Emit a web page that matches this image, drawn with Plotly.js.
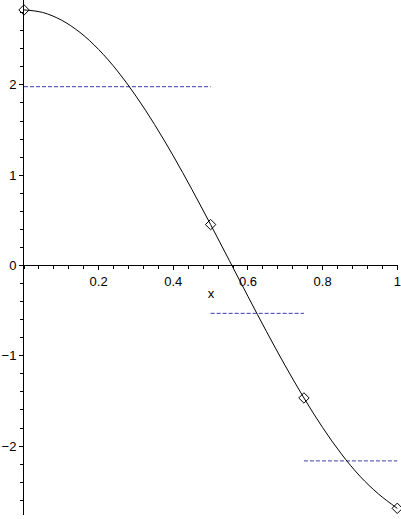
<!DOCTYPE html>
<html>
<head>
<meta charset="utf-8">
<script src="https://cdn.plot.ly/plotly-3.0.1.min.js"></script>
<style>html,body{margin:0;padding:0;background:#fff;}#chart{width:401px;height:519px;}</style>
</head>
<body>
<div id="chart"></div>
<script>
// Curve values
var curveX = [0, 0.05, 0.10, 0.15, 0.20, 0.25, 0.30, 0.35, 0.40, 0.45, 0.50, 0.55, 0.60, 0.65, 0.70, 0.75, 0.80, 0.85, 0.90, 0.95, 1.00];
var curveY = [2.83, 2.802, 2.718, 2.581, 2.392, 2.156, 1.876, 1.560, 1.213, 0.841, 0.453, 0.056, -0.342, -0.734, -1.111, -1.467, -1.794, -2.085, -2.333, -2.531, -2.689];

// Sample points (diamonds)
var pointX = [0, 0.5, 0.75, 1];
var pointY = [2.83, 0.453, -1.467, -2.689];

// Dashed step levels
var stepStart = [0, 0.5, 0.75];
var stepEnd = [0.5, 0.75, 1];
var stepLevel = [1.98, -0.53, -2.164];

// Ticks
var xTickVals = [0.2, 0.4, 0.6, 0.8, 1];
var xTickText = ['0.2', '0.4', '0.6', '0.8', '1'];
var yTickVals = [-2, -1, 0, 1, 2];
var yTickText = ['\u22122', '\u22121', '0', '1', '2'];

var traces = [];
for (var i = 0; i < stepLevel.length; i++) {
  traces.push({
    x: [stepStart[i], stepEnd[i]],
    y: [stepLevel[i], stepLevel[i]],
    mode: 'lines',
    line: {color: '#3c3cb0', width: 1, dash: '4px,2px'},
    hoverinfo: 'skip',
    showlegend: false
  });
}
traces.push({
  x: curveX, y: curveY, mode: 'lines',
  line: {color: '#000', width: 1, shape: 'spline'},
  showlegend: false
});
traces.push({
  x: pointX, y: pointY, mode: 'markers',
  marker: {symbol: 'diamond-open', size: 8, color: '#000', line: {width: 1, color: '#000'}},
  cliponaxis: false,
  showlegend: false
});

var font = {family: 'Liberation Sans, Arial, Helvetica, sans-serif', size: 13, color: '#000'};
var yBottom = -2.763, yTop = 2.94;
var xPos = (0 - yBottom) / (yTop - yBottom);

var layout = {
  width: 401, height: 519,
  margin: {l: 24, r: 3, t: 0, b: 4, pad: 0},
  paper_bgcolor: '#fff', plot_bgcolor: '#fff',
  font: font,
  showlegend: false,
  xaxis: {
    range: [0, 1.002],
    anchor: 'free', position: xPos,
    showline: true, linecolor: '#000', linewidth: 1,
    showgrid: false, zeroline: false,
    ticks: 'outside', ticklen: 4, tickwidth: 1, tickcolor: '#000',
    tickvals: xTickVals, ticktext: xTickText,
    ticklabeloverflow: 'allow',
    minor: {tick0: 0, dtick: 0.04, ticks: 'outside', ticklen: 3, tickcolor: '#000', tickwidth: 1, showgrid: false},
    tickfont: font,
    title: {text: 'x', font: font, standoff: 0}
  },
  yaxis: {
    range: [yBottom, yTop],
    showline: true, linecolor: '#000', linewidth: 1,
    showgrid: false, zeroline: false,
    ticks: 'outside', ticklen: 4, tickwidth: 1, tickcolor: '#000',
    tickvals: yTickVals, ticktext: yTickText,
    minor: {tick0: 0, dtick: 0.2, ticks: 'outside', ticklen: 3, tickcolor: '#000', tickwidth: 1, showgrid: false},
    tickfont: font
  }
};

Plotly.newPlot('chart', traces, layout, {displayModeBar: false, staticPlot: true});
</script>
</body>
</html>
